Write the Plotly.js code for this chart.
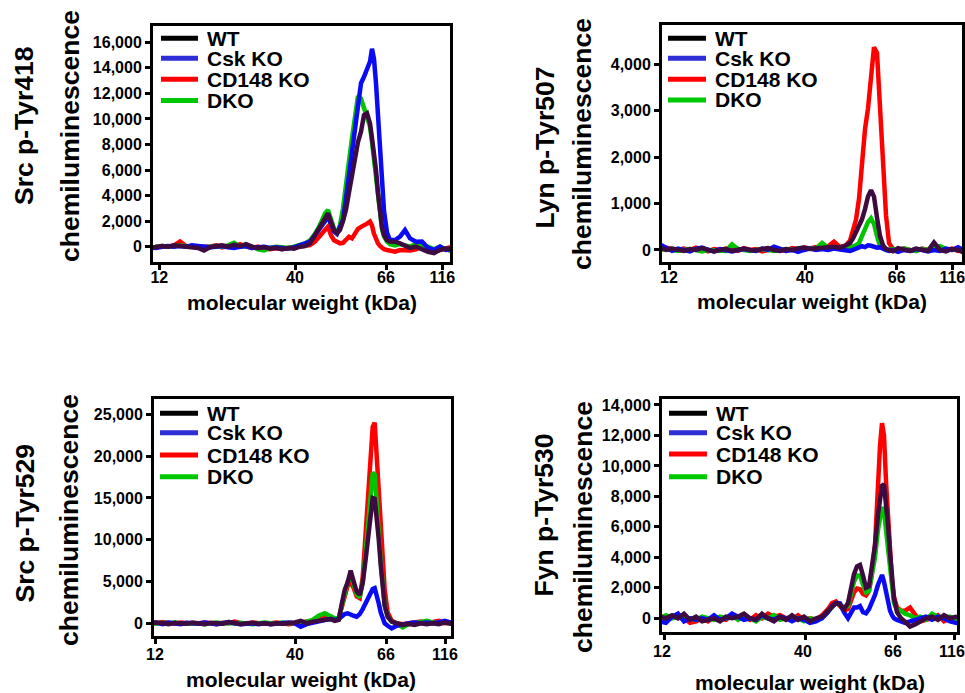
<!DOCTYPE html>
<html><head><meta charset="utf-8">
<script src="https://cdn.plot.ly/plotly-3.0.1.min.js"></script>
<style>html,body{margin:0;padding:0;background:#fff}#chart{width:965px;height:693px}</style>
</head><body><div id="chart"></div>
<script>
// ---------- DATA ----------
const seriesNames = ['WT', 'Csk KO', 'CD148 KO', 'DKO'];
const panelTitles = ['Src p-Tyr418', 'Lyn p-Tyr507', 'Src p-Tyr529', 'Fyn p-Tyr530'];
const yTitle = 'chemiluminescence';
const xTitle = 'molecular weight (kDa)';
const kdaLabels = ['12', '40', '66', '116'];

// ladder band migration positions (per capillary run)
const p1Ladder = [9.3, 145, 236, 292.3];
const p2Ladder = [9, 145, 236.7, 292.3];
const p3Ladder = [4.3, 144.3, 235.3, 294.3];
const p4Ladder = [4, 145, 235, 294];

// Panel 1: Src p-Tyr418
const p1X = [0,6,12,18,24,30,36,42,48,54,60,66,72,78,84,90,96,102,108,114,120,126,132,138,144,150,155,160,165,170,175,178,181,184,187,190,193,196,199,202,205,208,211,214,217,220,222,224,226,228,230,232,234,237,240,245,250,255,260,266,272,278,284,290,296,303];
const p1WT = [-100,0,50,0,100,50,0,-50,-100,-300,-50,50,100,0,150,50,200,0,-100,-50,-150,-100,-200,-100,-150,0, 50,260,920,1570,2090, 2610,1950,1300,1050,1310,2000,2900,4250,5700,7100,8200,9000,10300,10450,9650, 8500,7400,6010,4200,2600,1500,900, 500,400,390,260,50,-100,0,-200,-400,-500,-250,-150,-200];
const p1Csk = [0,-100,0,50,0,50,0,100,50,0,-50,0,50,-50,-100,0,50,-100,-50,0,-100,-50,-100,-150,-50,100, 200,400,900,1500,2000, 2300,1800,1200,1000,1500,2090,3800,5600,7500,9600,11600,12800,13300,13830,14500, 15500,14700,12800,10300,7830,5600,2800, 1100,520,520,780,1300,650,390,400,-100,-260,0,-260,-200];
const p1CD148 = [-100,0,50,0,100,400,50,0,-50,0,0,100,-50,50,0,200,0,-100,0,-150,-200,-100,-200,-100,-50,0, 50,130,400,800,1300, 1570,900,500,380,260,300,600,780,650,1050,1400,1550,1650,1800,1960, 1650,1000,600,260,50,-100,-200, -260,-300,-390,-260,-260,-300,-200,0,-260,-390,-260,-130,0];
const p1DKO = [-200,0,50,0,50,100,50,0,0,-50,0,50,0,100,300,0,50,0,-200,-300,-100,0,-50,-100,0,100, 250,500,1000,1700,2600, 2870,2100,1400,1050,1700,3000,4600,6700,8500,10200,11800,11600,10900,10300,9400, 8200,6900,5400,3800,2400,1400,800, 400,200,100,200,100,0,200,100,0,-200,0,-200,-400];

// Panel 2: Lyn p-Tyr507
const p2X = [0,6,12,18,24,30,36,42,48,54,60,66,72,78,84,90,96,102,108,114,120,126,132,138,144,150,156,162,168,174,180,186,190,193,196,199,202,205,208,211,214,217,220,223,226,229,233,238,244,250,256,262,268,274,280,286,292,298,303];
const p2WT = [50,0,30,0,-20,20,0,40,0,-30,0,20,-20,0,30,0,-10,20,40,0,-20,20,0,30,50,20,40,50,60,70,50,100, 150,250,400,520,660,880,1150,1290,1150,700,300,100,20,0, -30,40,20,-20,30,0,-20,160,0,-30,20,0,-50];
const p2Csk = [120,50,-20,30,0,-30,20,50,0,-30,20,0,-30,0,20,0,-20,30,0,70,20,-20,0,-40,0,30,0,20,0,30,10,0, -20,0,30,60,80,60,100,90,70,50,60,20,0,-20, 0,-40,0,-20,20,0,-30,0,-20,30,0,60,0];
const p2CD148 = [0,50,20,0,30,0,50,0,-30,20,0,30,0,-20,40,0,20,-30,0,30,0,-20,40,20,50,30,60,40,80,180,60,100, 200,400,650,1100,1850,2600,3050,3700,4370,4250,3200,1800,750,150, 20,0,30,0,-20,30,0,50,20,0,30,-20,0];
const p2DKO = [0,20,0,-20,0,20,0,-30,0,0,0,-20,120,20,0,-20,0,20,0,-20,0,20,0,30,30,20,30,150,50,60,40,60, 50,80,100,150,300,450,600,680,560,300,80,30,0,0, 20,0,30,0,-20,20,0,50,80,20,0,20,-30];

// Panel 3: Src p-Tyr529
const p3X = [0,6,12,18,24,30,36,42,48,54,60,66,72,78,84,90,96,102,108,114,120,126,132,138,144,150,156,162,168,174,180,184,188,191,194,197,200,203,206,209,212,215,218,220,222,224,226,228,230,232,234,237,241,246,252,258,264,270,276,282,288,294,300,303];
const p3WT = [0,100,0,-100,50,0,-50,100,0,-100,50,0,-50,150,0,-100,0,50,-50,0,-100,0,-50,0,100,300, 0,200,300,400,500, 300,400, 2300,4000,4900,6300,5000,3800,3400,4800,7700,10900, 13300,15000,14900,12900,10100,7000,4300,2100, 800,200,0,-200,-100,-200,0,-100,0,-100,100,0,-100];
const p3Csk = [200,0,-100,100,0,-100,50,0,-50,100,0,-100,0,150,0,-100,-50,0,-100,0,-100,-50,0,100,0,-400, -100,100,300,400,500, 400,500, 900,1100,1200,1000,900,790,1100,1700,2400,3200, 3800,4100,4200,3400,2400,1300,400,0, -300,-600,-300,-100,0,100,0,100,0,100,300,100,0];
const p3CD148 = [100,0,150,0,-50,100,0,-50,0,100,0,-100,50,0,200,0,-50,100,0,-50,0,100,0,-100,0,100, 100,300,700,900,700, 500,600, 1800,3200,4500,4900,4200,3200,3000,5500,11000,17800, 21300,23500,24000,20300,15800,12000,7500,4000, 1300,300,0,-100,0,100,200,0,100,300,0,100,0];
const p3DKO = [-100,0,50,0,100,-50,0,50,0,-100,0,100,0,-50,0,50,0,-100,0,100,0,-50,100,0,50,100, 200,400,900,1200,800, 600,600, 2000,3500,5000,5800,4800,3500,3100,4900,8500,13000, 16000,18000,17800,15000,11000,7500,4500,2200, 800,200,0,-500,-100,0,200,300,100,0,100,0,-100];

// Panel 4: Fyn p-Tyr530
const p4X = [0,6,12,18,24,30,36,42,48,54,60,66,72,78,84,90,96,102,108,114,120,126,132,138,144,150,156,162,168,172,176,180,184,188,191,194,197,200,203,206,209,212,215,218,220,222,224,226,228,230,232,234,237,241,245,250,255,260,266,272,278,284,290,296,303];
const p4WT = [100,0,200,0,300,-100,100,-200,-100,0,-200,100,0,100,300,0,-100,300,0,-200,100,-100,200,-100,100,-200, 0,100,500,800,1000,900,600,1000, 2000,2900,3400,3500,2800,2000,2100,3300,4800,6800, 8000,8700,8800,7600,6100,4300,2400,1300, 400,0,-220,-550,-400,-200,0,100,-100,200,0,100,0];
const p4Csk = [-200,-300,100,300,-200,0,-100,0,-100,200,-100,0,300,100,-100,0,-100,200,0,-100,100,0,-200,0,-100,-300, -200,0,400,800,1000,980,400,0, 400,700,700,800,400,330,600,1000,1530,2200, 2600,2840,2400,1700,1000,500,200,0, -110,-200,-300,-200,-100,0,100,-100,100,0,-200,-300,-400];
const p4CD148 = [200,-100,100,200,0,-300,-200,0,-200,100,0,-100,200,0,100,-100,200,0,300,100,200,0,-100,200,-100,0, -100,200,600,1000,1100,800,500,600, 1200,1700,1950,1900,1600,1500,1800,3000,4800,9000, 11300,12800,12000,9000,6500,3710,2400,1400, 700,500,500,700,200,-200,-100,0,200,-200,0,-100,100];
const p4DKO = [0,200,0,100,-100,0,-100,100,0,-100,100,0,200,-100,100,0,-200,100,0,200,-100,0,100,0,-200,0, -100,0,400,700,1000,900,700,800, 1600,2400,2800,2800,2200,1700,1800,2800,4000,5800, 6800,7300,7000,5800,4500,3000,1800,1000, 600,500,300,200,0,100,-100,300,100,0,100,-100,-200];

// ---------- STYLE / LAYOUT ----------
const W = 965, H = 693;
const px = x => x / W;
const py = y => 1 - y / H;
const FONT = 'Liberation Sans, Arial, Helvetica, sans-serif';

const traceColors = {'WT': '#3e0b40', 'Csk KO': '#0a0af5', 'CD148 KO': '#ff0000', 'DKO': '#00c400'};
const legendColors = {'WT': '#000000', 'Csk KO': '#2e2ed6', 'CD148 KO': '#ff0000', 'DKO': '#00c800'};
const drawOrder = ['CD148 KO', 'DKO', 'Csk KO', 'WT'];

const panels = [
  {x: p1X, ys: {'WT': p1WT, 'Csk KO': p1Csk, 'CD148 KO': p1CD148, 'DKO': p1DKO}, ladder: p1Ladder,
   dom: {x0: 153, x1: 450, y0: 26, y1: 262}, xr: [3, 300], yr: [-1200, 17280], dtick: 2000, standoff: -6, shift: 0,
   leg: {l0: 161, l1: 198, t: 206, ys: [38.3, 58.3, 79.3, 100.5]},
   t1: [24, 126], t2: [70, 136], xt: [301.5, 302]},
  {x: p2X, ys: {'WT': p2WT, 'Csk KO': p2Csk, 'CD148 KO': p2CD148, 'DKO': p2DKO}, ladder: p2Ladder,
   dom: {x0: 662, x1: 962, y0: 25, y1: 262}, xr: [2, 302], yr: [-260, 4850], dtick: 1000, standoff: -6, shift: 0,
   leg: {l0: 668, l1: 706, t: 714, ys: [38.3, 58.3, 79.3, 100]},
   t1: [544, 147.5], t2: [582, 144], xt: [811.5, 301]},
  {x: p3X, ys: {'WT': p3WT, 'Csk KO': p3Csk, 'CD148 KO': p3CD148, 'DKO': p3DKO}, ladder: p3Ladder,
   dom: {x0: 154, x1: 451, y0: 399, y1: 636}, xr: [3.3, 300.3], yr: [-1520, 26830], dtick: 5000, standoff: -3, shift: 0,
   leg: {l0: 160, l1: 198, t: 206, ys: [413.3, 432.7, 455, 476.7]},
   t1: [24, 523.5], t2: [69, 520], xt: [301, 679]},
  {x: p4X, ys: {'WT': p4WT, 'Csk KO': p4Csk, 'CD148 KO': p4CD148, 'DKO': p4DKO}, ladder: p4Ladder,
   dom: {x0: 662, x1: 957, y0: 399, y1: 632.3}, xr: [2, 297], yr: [-920, 14390], dtick: 2000, standoff: -3, shift: -2,
   leg: {l0: 669, l1: 707, t: 715, ys: [413.3, 432.7, 454, 476.7]},
   t1: [543, 515.5], t2: [583, 527], xt: [810, 682]}
];

const traces = [];
const annotations = [];
const shapes = [];
const layout = {
  width: W, height: H,
  margin: {l: 0, r: 0, t: 0, b: 0, pad: 0},
  paper_bgcolor: '#fff', plot_bgcolor: '#fff',
  font: {family: FONT, size: 16, color: '#000', weight: 'bold'},
  showlegend: false
};

panels.forEach((p, i) => {
  const n = i + 1;
  const xa = 'x' + (n === 1 ? '' : n), ya = 'y' + (n === 1 ? '' : n);
  drawOrder.forEach(name => {
    const ys = p.ys[name];
    if (ys.length !== p.x.length) throw new Error('length mismatch panel ' + n + ' ' + name + ': ' + ys.length + ' vs ' + p.x.length);
    traces.push({
      type: 'scatter', mode: 'lines', name: name, x: p.x, y: ys,
      xaxis: xa, yaxis: ya, showlegend: false, hoverinfo: 'skip',
      line: {color: traceColors[name], width: 4.5, shape: 'linear'}
    });
  });
  const axBase = {
    showline: true, mirror: true, linewidth: 3, linecolor: '#000',
    ticks: 'outside', ticklen: 5, tickwidth: 3, tickcolor: '#000',
    showgrid: false, zeroline: false, fixedrange: true,
    ticklabeloverflow: 'allow',
    tickfont: {family: FONT, size: 16, color: '#000', weight: 'bold'}
  };
  layout['xaxis' + (n === 1 ? '' : n)] = Object.assign({}, axBase, {
    domain: [px(p.dom.x0), px(p.dom.x1)], range: p.xr, anchor: ya,
    tickmode: 'array', tickvals: p.ladder, ticktext: kdaLabels,
    ticklabelstandoff: p.standoff, ticklabelshift: p.shift
  });
  layout['yaxis' + (n === 1 ? '' : n)] = Object.assign({}, axBase, {
    domain: [py(p.dom.y1), py(p.dom.y0)], range: p.yr, anchor: xa,
    tick0: 0, dtick: p.dtick, tickformat: ',d'
  });
  // axis titles
  annotations.push({xref: 'paper', yref: 'paper', x: px(p.t1[0]), y: py(p.t1[1]), xanchor: 'center', yanchor: 'middle',
    text: panelTitles[i], textangle: -90, showarrow: false, font: {family: FONT, size: 26.5, color: '#000', weight: 'bold'}});
  annotations.push({xref: 'paper', yref: 'paper', x: px(p.t2[0]), y: py(p.t2[1]), xanchor: 'center', yanchor: 'middle',
    text: yTitle, textangle: -90, showarrow: false, font: {family: FONT, size: 26.5, color: '#000', weight: 'bold'}});
  annotations.push({xref: 'paper', yref: 'paper', x: px(p.xt[0]), y: py(p.xt[1]), xanchor: 'center', yanchor: 'middle',
    text: xTitle, showarrow: false, font: {family: FONT, size: 21, color: '#000', weight: 'bold'}});
  // legend
  seriesNames.forEach((name, k) => {
    shapes.push({type: 'line', xref: 'paper', yref: 'paper', x0: px(p.leg.l0), x1: px(p.leg.l1),
      y0: py(p.leg.ys[k]), y1: py(p.leg.ys[k]), line: {color: legendColors[name], width: 5}});
    annotations.push({xref: 'paper', yref: 'paper', x: px(p.leg.t), y: py(p.leg.ys[k]), xanchor: 'left', yanchor: 'middle',
      text: name, showarrow: false, height: 19, borderpad: 0, valign: 'middle',
      font: {family: FONT, size: 21, color: '#000', weight: 'bold'}});
  });
});
layout.annotations = annotations;
layout.shapes = shapes;

Plotly.newPlot('chart', traces, layout, {staticPlot: true, displayModeBar: false});
</script></body></html>
